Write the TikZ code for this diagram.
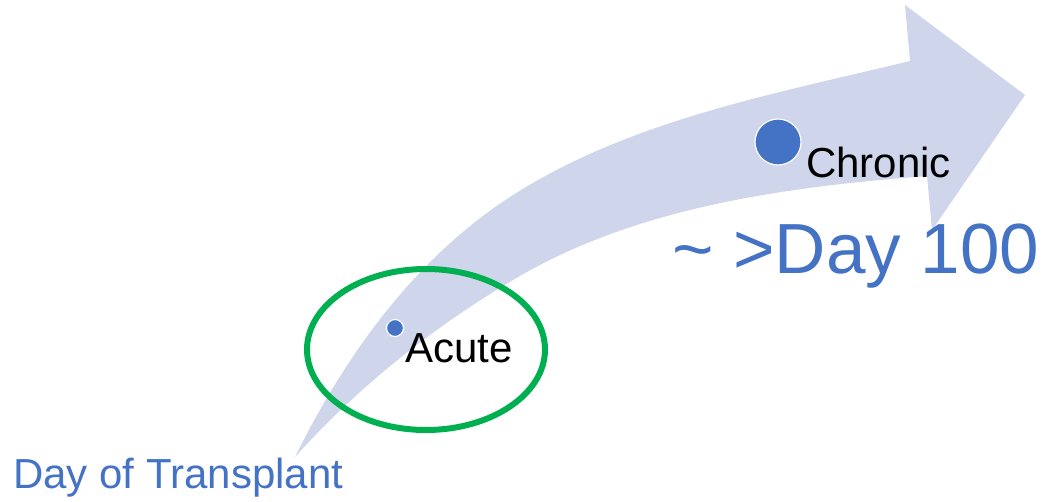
\documentclass[tikz,border=0pt]{standalone}
\usepackage{fontspec}
\setmainfont{Liberation Sans}
\usepackage{tikz}
\usetikzlibrary{calc}
\definecolor{bandfill}{HTML}{CFD5EA}
\definecolor{dotblue}{HTML}{4472C4}
\definecolor{ringgreen}{HTML}{00B050}

\begin{document}
\begin{tikzpicture}[x=1pt,y=-1pt,
  dot/.style={circle,fill=dotblue,draw=white,line width=1.2pt,inner sep=0pt},
  stagetext/.style={anchor=base west,inner sep=0pt,text=black,font=\fontsize{42}{50}\selectfont},
  bluetext/.style={anchor=base west,inner sep=0pt,text=dotblue}]
\useasboundingbox (0,0) rectangle (1044,501);

% Curved arrow
\fill[bandfill] (295,457) .. controls (346,354) and (416,257) .. (513,195)
  .. controls (631,120) and (774,94) .. (910,61)
  -- (905,5) -- (1025,95) -- (932,230) -- (927,176)
  .. controls (785,187) and (635,207) .. (513,280)
  .. controls (432,328) and (358,387) .. (295,457) -- cycle;

% Acute phase ring
\draw[ringgreen, line width=6pt] (426,349.5) ellipse [x radius=119, y radius=80.5];

% Stages
\node[dot, minimum size=17pt] (acutedot) at (395,328) {};
\node[dot, minimum size=46pt] (chronicdot) at (778,142) {};
\node[stagetext] (acute) at (405,362) {Acute};
\node[stagetext] (chronic) at (806,177) {Chronic};

% Time marks
\node[bluetext, font=\fontsize{71}{80}\selectfont] (day100) at (672,273) {\textasciitilde{} >Day 100};
\node[bluetext, font=\fontsize{42}{50}\selectfont] (day0) at (13,488) {Day of Transplant};
\end{tikzpicture}
\end{document}
